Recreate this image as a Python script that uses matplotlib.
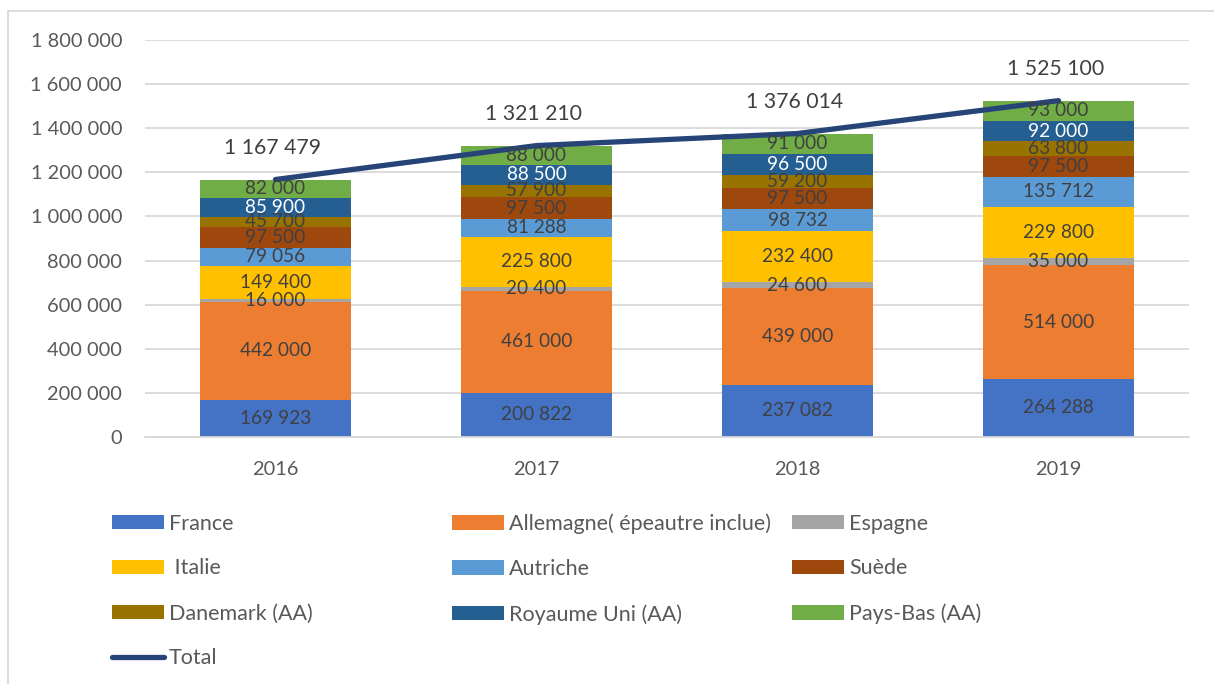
import matplotlib
matplotlib.use("Agg")
import matplotlib.pyplot as plt
from matplotlib.patches import Patch
from matplotlib.lines import Line2D
from matplotlib.ticker import FuncFormatter, MultipleLocator
import numpy as np

plt.rcParams['font.family'] = ['Lato', 'DejaVu Sans']

years = ["2016", "2017", "2018", "2019"]
series_names = ["France", "Allemagne( épeautre inclue)", "Espagne", " Italie", "Autriche",
                "Suède", "Danemark (AA)", "Royaume Uni (AA)", "Pays-Bas (AA)"]
france = [169923, 200822, 237082, 264288]
allemagne = [442000, 461000, 439000, 514000]
espagne = [16000, 20400, 24600, 35000]
italie = [149400, 225800, 232400, 229800]
autriche = [79056, 81288, 98732, 135712]
suede = [97500, 97500, 97500, 97500]
danemark = [45700, 57900, 59200, 63800]
royaume_uni = [85900, 88500, 96500, 92000]
pays_bas = [82000, 88000, 91000, 93000]
total = [1167479, 1321210, 1376014, 1525100]

series_values = [france, allemagne, espagne, italie, autriche, suede, danemark, royaume_uni, pays_bas]
colors = ["#4472C4", "#ED7D31", "#A5A5A5", "#FFC000", "#5B9BD5",
          "#9E480E", "#997300", "#255E91", "#70AD47"]
label_colors = ["#404040"] * 7 + ["#FFFFFF", "#404040"]
line_color = "#264478"
text_color = "#595959"

W, H = 1214, 684
fig = plt.figure(figsize=(W / 100, H / 100), dpi=100)
ax = fig.add_axes([145 / W, 1 - 437 / H, (1189 - 145) / W, (437 - 40) / H])

fmt = lambda v: f"{int(round(v)):,}".replace(",", " ")

x = np.arange(len(years))
bottom = np.zeros(len(years))
for name, vals, c, lc in zip(series_names, series_values, colors, label_colors):
    vals = np.array(vals, dtype=float)
    ax.bar(x, vals, 0.575, bottom=bottom, color=c, label=name, zorder=2)
    for xi, b, v in zip(x, bottom, vals):
        ax.text(xi, b + v / 2, fmt(v), ha="center", va="center", fontsize=13.7,
                color=lc, zorder=4)
    bottom += vals

ax.plot(x, total, color=line_color, lw=3.8, solid_capstyle="round", zorder=3, label="Total")
for xi, t in zip(x, total):
    ax.annotate(fmt(t), (xi, t), xytext=(-2, 23), textcoords="offset points",
                ha="center", va="center", fontsize=15.3, color="#404040", zorder=5)

ax.set_xlim(-0.5, 3.5)
ax.set_ylim(0, 1800000)
ax.yaxis.set_major_locator(MultipleLocator(200000))
ax.yaxis.set_major_formatter(FuncFormatter(lambda v, p: fmt(v)))
ax.set_xticks(x)
ax.set_xticklabels(years)
ax.tick_params(axis="y", length=0, pad=16.5, labelsize=14.4, labelcolor=text_color)
ax.tick_params(axis="x", length=0, pad=17.5, labelsize=14.4, labelcolor=text_color)
ax.grid(axis="y", color="#D9D9D9", lw=1.3, zorder=0)
ax.set_axisbelow(True)
for s in ["top", "right", "left"]:
    ax.spines[s].set_visible(False)
ax.spines["bottom"].set_color("#D9D9D9")
ax.spines["bottom"].set_linewidth(1.3)

# chart area border
fig.add_artist(Line2D([8 / W, 1], [1 - 11 / H, 1 - 11 / H], color="#D9D9D9", lw=1.3,
                      transform=fig.transFigure))
fig.add_artist(Line2D([8 / W, 8 / W], [0, 1 - 11 / H], color="#D9D9D9", lw=1.3,
                      transform=fig.transFigure))

# legend in 3 columns (row-major order as in the original)
handles = [Patch(facecolor=c, edgecolor="none") for c in colors]
line_handle = Line2D([], [], color=line_color, lw=3.8, solid_capstyle="round")
columns = [
    ([handles[0], handles[3], handles[6], line_handle],
     [series_names[0], series_names[3], series_names[6], "Total"], 112),
    ([handles[1], handles[4], handles[7]],
     [series_names[1], series_names[4], series_names[7]], 452),
    ([handles[2], handles[5], handles[8]],
     [series_names[2], series_names[5], series_names[8]], 792),
]
for hs, ls, xpos in columns:
    fig.legend(hs, ls, loc="upper left", bbox_to_anchor=(xpos / W, 1 - 513.5 / H),
               frameon=False, fontsize=15.5, labelcolor=text_color,
               handlelength=2.42, handleheight=0.65, handletextpad=0.23,
               labelspacing=1.16, borderpad=0, borderaxespad=0)

fig.savefig("out.png", dpi=100, facecolor="white")
